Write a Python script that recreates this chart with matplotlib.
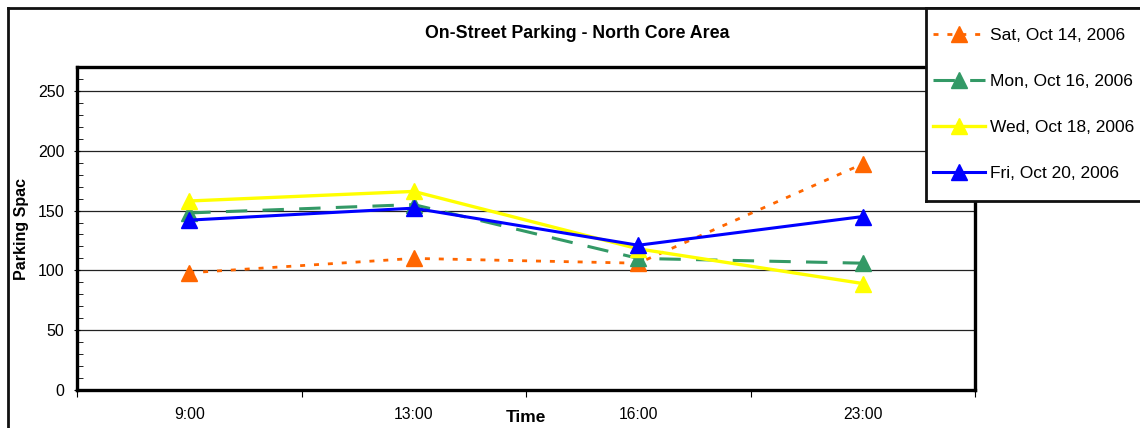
import matplotlib

matplotlib.use("Agg")
import matplotlib.pyplot as plt  # noqa: E402
from matplotlib.lines import Line2D  # noqa: E402
from matplotlib.patches import Rectangle  # noqa: E402
from matplotlib.ticker import FixedLocator, MultipleLocator, NullFormatter  # noqa: E402

plt.rcParams["font.family"] = ["Liberation Sans", "DejaVu Sans"]

# contagens por horário
times = ["9:00", "13:00", "16:00", "23:00"]
labels = ["Sat, Oct 14, 2006", "Mon, Oct 16, 2006", "Wed, Oct 18, 2006", "Fri, Oct 20, 2006"]
sat = [98, 110, 106, 189]
mon = [148, 155, 110, 106]
wed = [158, 166, 118, 89]
fri = [142, 152, 121, 145]

styles = [
    dict(color="#FF6600", lw=2.0, dashes=(1.8, 3.2)),
    dict(color="#339966", lw=2.2, dashes=(7.0, 5.0)),
    dict(color="#FFFF00", lw=2.4, ls="-"),
    dict(color="#0000FF", lw=2.2, ls="-"),
]

W, H = 1140, 428
fig = plt.figure(figsize=(W / 100, H / 100), dpi=100)


def fx(px):
    return px / W


def fy(py):
    return 1 - py / H


# moldura externa do gráfico (só esquerda e topo aparecem)
frame_kw = dict(color="#111111", lw=2.0, transform=fig.transFigure, clip_on=False)
fig.add_artist(Line2D([fx(8), fx(8)], [-0.05, fy(8)], **frame_kw))
fig.add_artist(Line2D([fx(8), 1.05], [fy(8), fy(8)], **frame_kw))

ax = fig.add_axes([fx(77), 38 / H, 898 / W, 323 / H])
x = range(len(times))
for vals, lab, st in zip([sat, mon, wed, fri], labels, styles):
    ax.plot(x, vals, marker="^", ms=12, mec=st["color"], mfc=st["color"],
            label=lab, **st)

ax.set_xlim(-0.5, len(times) - 0.5)
ax.set_ylim(0, 270)

ax.set_xticks(list(x))
ax.set_xticklabels(times, fontsize=11.3)
ax.xaxis.set_minor_locator(FixedLocator([i - 0.5 for i in range(len(times) + 1)]))
ax.xaxis.set_minor_formatter(NullFormatter())
ax.tick_params(axis="x", which="major", length=0, pad=12)
ax.tick_params(axis="x", which="minor", length=5, width=0.8, direction="out")

ax.yaxis.set_major_locator(MultipleLocator(50))
ax.yaxis.set_minor_locator(MultipleLocator(10))
ax.tick_params(axis="y", which="major", length=4, width=0.8, direction="inout",
               labelsize=11.5, pad=7)
ax.tick_params(axis="y", which="minor", length=4, width=0.6, direction="in")
ax.grid(axis="y", which="major", color="#222222", lw=0.9)
ax.set_axisbelow(True)

for sp in ax.spines.values():
    sp.set_linewidth(2.4)
    sp.set_color("black")

fig.text(fx(577), fy(34), "On-Street Parking - North Core Area",
         ha="center", va="center", fontsize=12.8, fontweight="bold")
fig.text(fx(526), fy(418), "Time", ha="center", va="center",
         fontsize=12.5, fontweight="bold")
fig.text(fx(22), fy(229), "Parking Spac", ha="center", va="center",
         rotation=90, fontsize=11.5, fontweight="bold")

# legenda desenhada à mão, sobreposta ao canto do gráfico; a borda direita
# fica fora da figura, então só esquerda/topo/base são traçadas
fig.add_artist(Rectangle((fx(926), fy(201)), 0.2, fy(8) - fy(201),
                         transform=fig.transFigure, facecolor="white",
                         edgecolor="none", zorder=5, clip_on=False))
box_kw = dict(color="#111111", lw=2.0, transform=fig.transFigure, zorder=6,
              clip_on=False)
fig.add_artist(Line2D([fx(926), fx(926)], [fy(8), fy(201)], **box_kw))
fig.add_artist(Line2D([fx(926), 1.05], [fy(8), fy(8)], **box_kw))
fig.add_artist(Line2D([fx(926), 1.05], [fy(201), fy(201)], **box_kw))
for i, (lab, st) in enumerate(zip(labels, styles)):
    yy = fy(34 + 46 * i)
    fig.add_artist(Line2D([fx(933), fx(985)], [yy, yy], transform=fig.transFigure,
                          zorder=6, **st))
    fig.add_artist(Line2D([fx(959)], [yy], transform=fig.transFigure, ls="none",
                          marker="^", ms=12, color=st["color"], zorder=7))
    fig.text(fx(990), fy(36 + 46 * i), lab, ha="left", va="center",
             fontsize=12.5, zorder=8)

fig.savefig("out.png", dpi=100)
